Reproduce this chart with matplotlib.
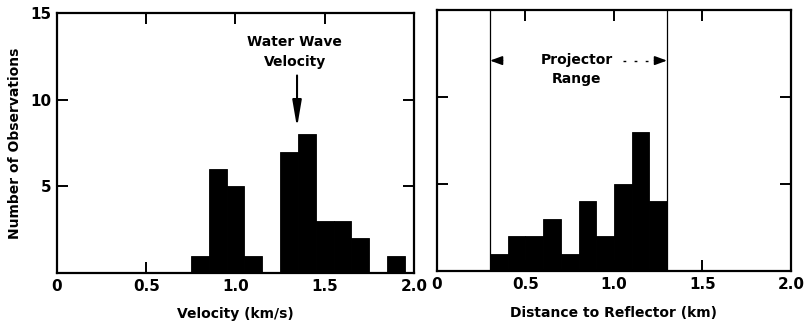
import matplotlib.pyplot as plt
import matplotlib

matplotlib.rc('font', family='DejaVu Sans', weight='bold', size=10)
matplotlib.rc('axes', labelweight='bold')

# Histogram of apparent velocities (bins of 0.1 km/s)
vel_edges = [0.75, 0.85, 0.95, 1.05, 1.15, 1.25, 1.35, 1.45, 1.55, 1.65, 1.75, 1.85]
vel_counts = [1, 6, 5, 1, 0, 7, 8, 3, 3, 2, 0, 1]

# Histogram of distances to reflector (bins of 0.1 km)
dist_edges = [0.3, 0.4, 0.5, 0.6, 0.7, 0.8, 0.9, 1.0, 1.1, 1.2]
dist_counts = [1, 2, 2, 3, 1, 4, 2, 5, 8, 4]

bin_width = 0.1
proj_range = [0.3, 1.3]
water_wave_vel = 1.345

xticks = [0, 0.5, 1.0, 1.5, 2.0]
xticklabels = ['0', '0.5', '1.0', '1.5', '2.0']
yticks = [5, 10, 15]

fig = plt.figure(figsize=(8.08, 3.27), dpi=100)
ax1 = fig.add_axes([0.0705, 0.165, 0.4418, 0.795])
ax2 = fig.add_axes([0.5408, 0.171, 0.438, 0.798])

for ax in (ax1, ax2):
    ax.set_xlim(0, 2.0)
    ax.set_ylim(0, 15)
    for s in ax.spines.values():
        s.set_linewidth(1.6)
    ax.tick_params(direction='in', length=8, width=1.4, top=True, right=True,
                   labelsize=11, pad=4)
    ax.set_xticks(xticks)
    ax.set_xticklabels(xticklabels)
    ax.set_yticks(yticks)

# left panel: velocities
ax1.bar(vel_edges, vel_counts, width=bin_width, align='edge', color='black',
        edgecolor='black', linewidth=0.6)
ax1.set_yticklabels(['5', '10', '15'])
ax1.set_xlabel('Velocity (km/s)', fontsize=10, labelpad=10)
ax1.set_ylabel('Number of Observations', fontsize=10, labelpad=6)
ax1.text(1.333, 12.75, 'Water Wave\nVelocity', ha='center', va='center',
         fontsize=10, linespacing=1.5)
ax1.annotate('', xy=(water_wave_vel, 8.4), xytext=(water_wave_vel, 11.4),
             arrowprops=dict(arrowstyle='-|>,head_length=1.0,head_width=0.17',
                             color='black', lw=1.5, mutation_scale=16,
                             shrinkA=0, shrinkB=0))

# right panel: distances
ax2.bar(dist_edges, dist_counts, width=bin_width, align='edge', color='black',
        edgecolor='black', linewidth=0.6)
ax2.set_yticklabels([])
ax2.set_xlabel('Distance to Reflector (km)', fontsize=10, labelpad=10)
for xv in proj_range:
    ax2.axvline(xv, color='black', lw=0.9)
ax2.text(0.79, 11.6, 'Projector\nRange', ha='center', va='center',
         fontsize=10, linespacing=1.5)
arrow_kw = dict(arrowstyle='-|>,head_length=0.6,head_width=0.22', color='black',
                lw=1.2, mutation_scale=12, shrinkA=0, shrinkB=0)
ax2.annotate('', xy=(proj_range[0], 12.1), xytext=(0.37, 12.1), arrowprops=arrow_kw)
ax2.annotate('', xy=(proj_range[1], 12.1), xytext=(1.23, 12.1), arrowprops=arrow_kw)
ax2.plot([1.05, 1.22], [12.1, 12.1], color='black', lw=1.0, ls=(0, (2, 6)))

fig.savefig('out.png', dpi=100)
